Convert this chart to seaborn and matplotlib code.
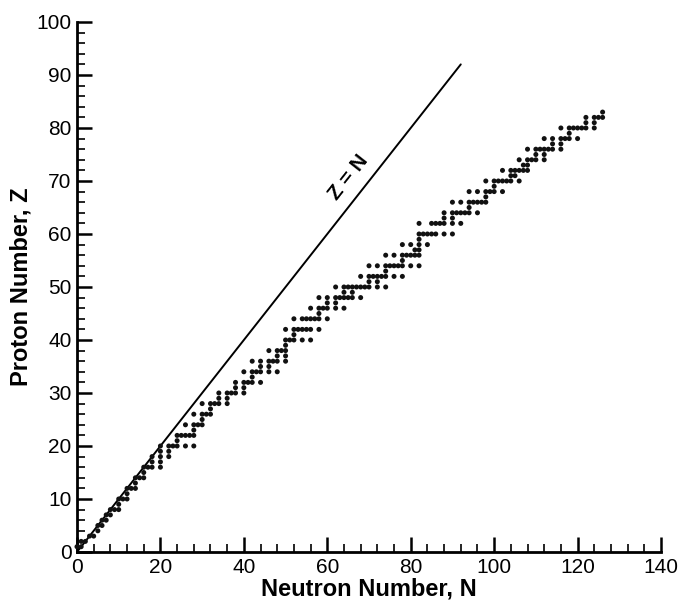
import matplotlib
matplotlib.use("Agg")
import matplotlib.pyplot as plt
import seaborn as sns
import pandas as pd
from matplotlib.ticker import MultipleLocator

# Stable nuclides: proton number and the mass numbers of its stable isotopes
proton_numbers = list(range(1, 84))
mass_numbers = [
    [1, 2], [3, 4], [6, 7], [9], [10, 11], [12, 13], [14, 15], [16, 17, 18],
    [19], [20, 21, 22], [23], [24, 25, 26], [27], [28, 29, 30], [31],
    [32, 33, 34, 36], [35, 37], [36, 38, 40], [39, 41], [40, 42, 43, 44, 46, 48],
    [45], [46, 47, 48, 49, 50], [51], [50, 52, 53, 54], [55], [54, 56, 57, 58],
    [59], [58, 60, 61, 62, 64], [63, 65], [64, 66, 67, 68, 70], [69, 71],
    [70, 72, 73, 74, 76], [75], [74, 76, 77, 78, 80, 82], [79, 81],
    [78, 80, 82, 83, 84, 86], [85, 87], [84, 86, 87, 88], [89],
    [90, 91, 92, 94, 96], [93], [92, 94, 95, 96, 97, 98, 100], [],
    [96, 98, 99, 100, 101, 102, 104], [103], [102, 104, 105, 106, 108, 110],
    [107, 109], [106, 108, 110, 111, 112, 113, 114, 116], [113, 115],
    [112, 114, 115, 116, 117, 118, 119, 120, 122, 124], [121, 123],
    [120, 122, 123, 124, 125, 126, 128, 130], [127],
    [124, 126, 128, 129, 130, 131, 132, 134, 136], [133],
    [130, 132, 134, 135, 136, 137, 138], [138, 139], [136, 138, 140, 142],
    [141], [142, 143, 144, 145, 146, 148, 150], [],
    [144, 147, 148, 149, 150, 152, 154], [151, 153],
    [152, 154, 155, 156, 157, 158, 160], [159],
    [156, 158, 160, 161, 162, 163, 164], [165], [162, 164, 166, 167, 168, 170],
    [169], [168, 170, 171, 172, 173, 174, 176], [175, 176],
    [174, 176, 177, 178, 179, 180], [180, 181], [180, 182, 183, 184, 186],
    [185, 187], [184, 186, 187, 188, 189, 190, 192], [191, 193],
    [190, 192, 194, 195, 196, 198], [197], [196, 198, 199, 200, 201, 202, 204],
    [203, 205], [204, 206, 207, 208], [209],
]
line_ends = [0, 92]
x_ticks = [0, 20, 40, 60, 80, 100, 120, 140]
y_ticks = [0, 10, 20, 30, 40, 50, 60, 70, 80, 90, 100]

rows = []
for z, masses in zip(proton_numbers, mass_numbers):
    for a in masses:
        rows.append({"N": a - z, "Z": z})
df = pd.DataFrame(rows)
line_df = pd.DataFrame({"N": line_ends, "Z": line_ends})

sns.set_theme(style="ticks")
plt.rcParams["font.family"] = ["Liberation Sans", "DejaVu Sans"]
plt.rcParams["text.color"] = "black"
plt.rcParams["axes.labelcolor"] = "black"
plt.rcParams["xtick.color"] = "black"
plt.rcParams["ytick.color"] = "black"

fig = plt.figure(figsize=(6.79, 6.04), dpi=100)
ax = fig.add_axes([0.1134, 0.0861, 0.8601, 0.8775])

sns.lineplot(data=line_df, x="N", y="Z", ax=ax, color="black", linewidth=1.4)
sns.scatterplot(data=df, x="N", y="Z", ax=ax, color="#111111", s=13,
                marker="o", edgecolor="none", linewidth=0, clip_on=False, zorder=3)

ax.set_xlim(0, 140)
ax.set_ylim(0, 100)
ax.set_xticks(x_ticks)
ax.set_yticks(y_ticks)
ax.xaxis.set_minor_locator(MultipleLocator(4))
ax.yaxis.set_minor_locator(MultipleLocator(2))

for s in ["top", "right"]:
    ax.spines[s].set_visible(False)
for s in ["left", "bottom"]:
    ax.spines[s].set_linewidth(2.0)
    ax.spines[s].set_color("black")

ax.tick_params(which="major", direction="in", length=11, width=1.8,
               labelsize=15, colors="black", pad=4)
ax.tick_params(which="minor", direction="in", length=6, width=1.2, colors="black")

ax.set_xlabel("Neutron Number, N", fontsize=17, fontweight="bold", labelpad=1)
ax.set_ylabel("Proton Number, Z", fontsize=17, fontweight="bold", labelpad=3)

ax.text(65.2, 70.6, "Z = N", fontsize=15, fontweight="bold", rotation=51.8,
        ha="center", va="center", rotation_mode="anchor")

fig.savefig("out.png", dpi=100)
